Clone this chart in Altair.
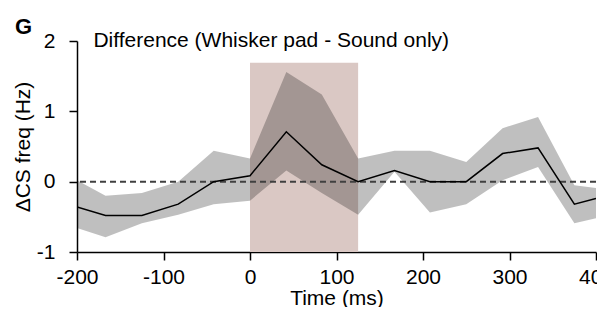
import altair as alt
import pandas as pd

# ---- data ----
time_ms = [-200, -167, -125, -83, -42, 0, 42, 83, 125, 167, 208, 250, 292, 333, 375, 400]
mean_diff = [-0.36, -0.48, -0.48, -0.32, 0.0, 0.085, 0.71, 0.24, 0.0, 0.16, 0.0, 0.0, 0.40, 0.48, -0.32, -0.24]
upper_ci = [0.02, -0.20, -0.16, 0.0, 0.44, 0.33, 1.56, 1.24, 0.33, 0.44, 0.44, 0.28, 0.76, 0.92, -0.05, -0.09]
lower_ci = [-0.66, -0.79, -0.59, -0.47, -0.32, -0.27, 0.16, -0.16, -0.47, 0.14, -0.44, -0.32, 0.02, 0.21, -0.59, -0.52]

stim_start = [0]
stim_end = [125]
stim_low = [-1]
stim_high = [1.69]

x_ticks = [-200, -100, 0, 100, 200, 300, 400]
y_ticks = [-1, 0, 1, 2]

title_text = ["Difference (Whisker pad - Sound only)"]
title_x = [-181]
title_y = [1.915]
panel_letter = "G"

FONT = "Liberation Sans"
LABEL_EXPR = "datum.value < 0 ? '-' + abs(datum.value) : '' + datum.value"

df = pd.DataFrame({"t": time_ms, "m": mean_diff, "hi": upper_ci, "lo": lower_ci})
stim = pd.DataFrame({"x": stim_start, "x2": stim_end, "y": stim_low, "y2": stim_high})
tdf = pd.DataFrame({"x": title_x, "y": title_y, "text": title_text})
zero = pd.DataFrame({"y": [0]})
one = pd.DataFrame({"a": [0]})

xscale = alt.Scale(domain=[-200, 400], nice=False, zero=False)
yscale = alt.Scale(domain=[-1, 2], nice=False, zero=False)

xaxis = alt.Axis(values=x_ticks, title="Time (ms)", grid=False, tickSize=8,
                 labelPadding=6, titlePadding=0, labelFlush=False, labelExpr=LABEL_EXPR)
yaxis = alt.Axis(values=y_ticks, title="ΔCS freq (Hz)", grid=False, tickSize=8,
                 labelPadding=14, titlePadding=3, labelExpr=LABEL_EXPR)

rect = alt.Chart(stim).mark_rect(color="#dac8c4").encode(
    x=alt.X("x:Q", scale=xscale, axis=xaxis),
    x2="x2:Q",
    y=alt.Y("y:Q", scale=yscale, axis=yaxis),
    y2="y2:Q",
)

band = alt.Chart(df).mark_area(color="black", opacity=0.25, clip=True).encode(
    x=alt.X("t:Q", scale=xscale),
    y=alt.Y("lo:Q", scale=yscale),
    y2="hi:Q",
)

rule = alt.Chart(zero).mark_rule(color="#404040", strokeWidth=2, strokeDash=[6, 4]).encode(
    y=alt.Y("y:Q", scale=yscale)
)

line = alt.Chart(df).mark_line(color="black", strokeWidth=1.5, clip=True).encode(
    x=alt.X("t:Q", scale=xscale),
    y=alt.Y("m:Q", scale=yscale),
)

title = alt.Chart(tdf).mark_text(align="left", baseline="alphabetic", fontSize=21,
                                 font=FONT, color="black").encode(
    x=alt.X("x:Q", scale=xscale),
    y=alt.Y("y:Q", scale=yscale),
    text="text:N",
)

letter = alt.Chart(one).mark_text(align="left", baseline="alphabetic", fontSize=22,
                                  fontWeight="bold", font=FONT, color="black").encode(
    x=alt.value(-62),
    y=alt.value(-6.7),
    text=alt.value(panel_letter),
)

chart = alt.layer(rect, band, rule, line, title, letter).properties(
    width=519,
    height=211,
    autosize=alt.AutoSizeParams(type="none"),
    padding={"left": 69, "top": 33, "right": 1, "bottom": 55},
).configure_view(stroke=None).configure_axis(
    labelFont=FONT, titleFont=FONT, labelFontSize=21, titleFontSize=21,
    titleFontWeight="normal", labelColor="black", titleColor="black",
    domainColor="black", tickColor="black", domainWidth=1.5, tickWidth=1.5,
)

chart.save("out.html", embed_options={"renderer": "svg", "actions": False})
